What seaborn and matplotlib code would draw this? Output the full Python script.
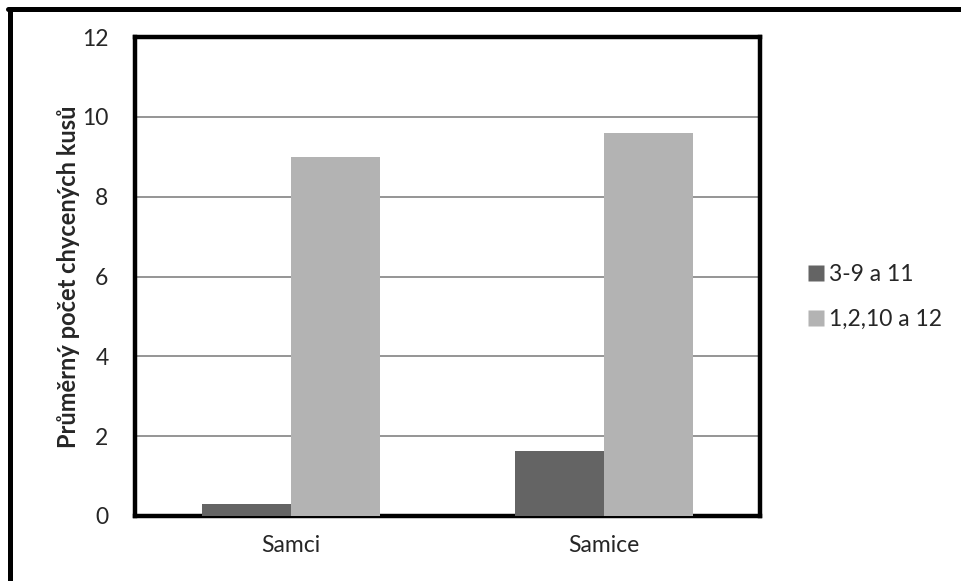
import matplotlib
matplotlib.use("Agg")
import matplotlib.pyplot as plt
from matplotlib.lines import Line2D
import pandas as pd
import seaborn as sns

categories = ["Samci", "Samice"]
series_names = ["3-9 a 11", "1,2,10 a 12"]
values_3_9_11 = [0.3, 1.62]
values_1_2_10_12 = [9.0, 9.6]
colors = ["#646464", "#b3b3b3"]
yticks = [0, 2, 4, 6, 8, 10, 12]
ylabel = "Průměrný počet chycených kusů"

df = pd.DataFrame({
    "skupina": categories * 2,
    "serie": [series_names[0]] * 2 + [series_names[1]] * 2,
    "hodnota": values_3_9_11 + values_1_2_10_12,
})

sns.set_theme(style="white")
plt.rcParams["font.family"] = ["Lato", "DejaVu Sans"]

fig = plt.figure(figsize=(9.62, 5.81), dpi=100)
ax = fig.add_axes([135 / 962, 1 - 516 / 581, 625 / 962, 479 / 581])

sns.barplot(data=df, x="skupina", y="hodnota", hue="serie",
            palette=colors, width=0.57, gap=0, saturation=1,
            edgecolor="none", linewidth=0, ax=ax, legend=False, zorder=3)

ax.set_ylim(0, 12)
ax.set_yticks(yticks)
ax.set_yticklabels([str(t) for t in yticks])
ax.yaxis.grid(True, color="#8c8c8c", linewidth=1.3, zorder=0)
ax.set_axisbelow(True)
ax.set_xlabel("")
ax.set_ylabel(ylabel, fontsize=17, fontweight="bold")
ax.yaxis.set_label_coords(-0.088, 0.5)
ax.tick_params(axis="both", length=0, labelsize=16.5)
ax.tick_params(axis="x", pad=14)
ax.tick_params(axis="y", pad=19)
for sp in ax.spines.values():
    sp.set_visible(True)
    sp.set_color("black")
    sp.set_linewidth(3.2)

handles = [Line2D([0], [0], marker="s", linestyle="none", markersize=11,
                  markerfacecolor=c, markeredgecolor="none") for c in colors]
fig.legend(handles, series_names, loc="center left",
           bbox_to_anchor=(795 / 962, 1 - 297 / 581), frameon=False,
           fontsize=16.5, handletextpad=0.1, labelspacing=1.05,
           borderaxespad=0, handlelength=1.0)

# outer frame on the left and top edges
fig.add_artist(Line2D([10 / 962, 10 / 962], [0, 1 - 9 / 581],
                      transform=fig.transFigure, color="black", linewidth=3.6))
fig.add_artist(Line2D([8 / 962, 1], [1 - 9 / 581, 1 - 9 / 581],
                      transform=fig.transFigure, color="black", linewidth=3.6))

fig.savefig("out.png", dpi=100)
